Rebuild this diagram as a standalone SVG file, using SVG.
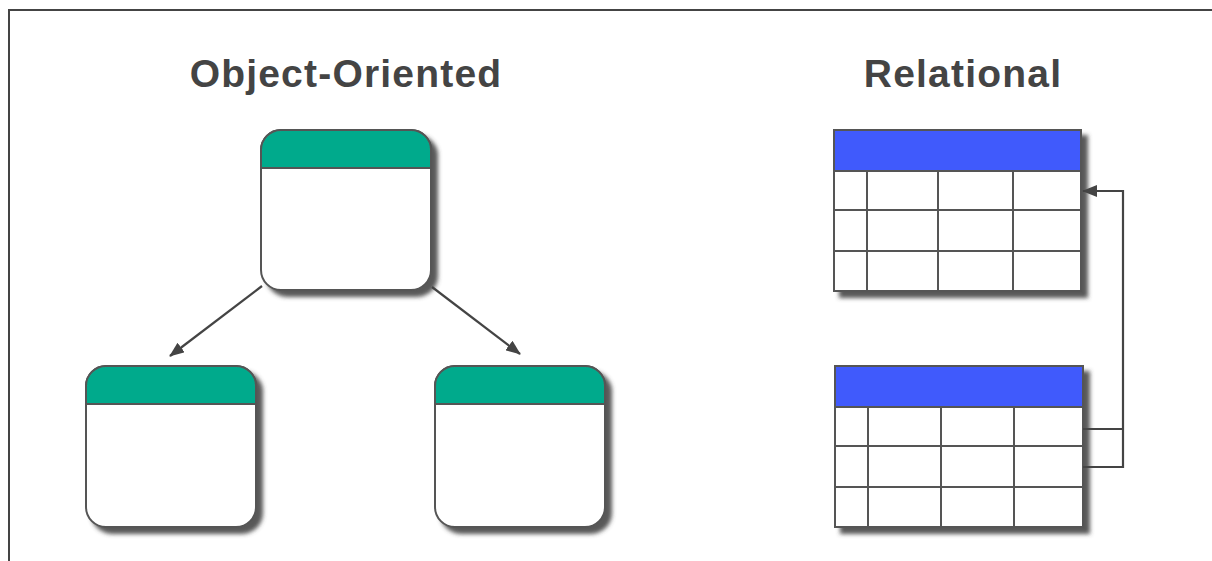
<svg xmlns="http://www.w3.org/2000/svg" width="1212" height="561" viewBox="0 0 1212 561">
<style>
.title{font-family:"Liberation Sans",Arial,sans-serif;font-weight:bold;font-size:39px;fill:#444;letter-spacing:1.2px}
.box{fill:#fff;stroke:#555;stroke-width:2}
.hdrG{fill:#06aa8c;stroke:#555;stroke-width:2}
.hdrB{fill:#405afc;stroke:#555;stroke-width:2}
.grid{stroke:#555;stroke-width:2;fill:none}
.conn{stroke:#444;stroke-width:2.2;fill:none}
</style>
<defs>
<filter id="sh" x="-10%" y="-10%" width="130%" height="130%">
<feDropShadow dx="6" dy="6" stdDeviation="2.2" flood-color="#444" flood-opacity="0.9"/>
</filter>
<marker id="ah" markerWidth="15" markerHeight="12" refX="14" refY="6" orient="auto" markerUnits="userSpaceOnUse">
<path d="M0,0 L15,6 L0,12 Z" fill="#444"/>
</marker>
</defs>
<rect width="1212" height="561" fill="#fff"/>
<path d="M9,561 V10 H1212" stroke="#444" stroke-width="2" fill="none"/>
<text class="title" x="346" y="87" text-anchor="middle">Object-Oriented</text>
<text class="title" x="963" y="87" text-anchor="middle">Relational</text>
<g id="obj-top" filter="url(#sh)">
<rect class="box" x="261" y="130" width="170" height="160" rx="20"/>
<path class="hdrG" d="M261,168 V150 A20,20 0 0 1 281,130 H411 A20,20 0 0 1 431,150 V168 Z"/>
</g>
<g id="obj-left" filter="url(#sh)">
<rect class="box" x="86" y="366" width="170" height="161" rx="20"/>
<path class="hdrG" d="M86,404 V386 A20,20 0 0 1 106,366 H236 A20,20 0 0 1 256,386 V404 Z"/>
</g>
<g id="obj-right" filter="url(#sh)">
<rect class="box" x="435" y="366" width="170" height="161" rx="20"/>
<path class="hdrG" d="M435,404 V386 A20,20 0 0 1 455,366 H585 A20,20 0 0 1 605,386 V404 Z"/>
</g>
<g id="table-top">
<g filter="url(#sh)">
<rect class="box" x="834" y="130" width="247" height="161"/>
</g>
<rect class="hdrB" x="834" y="130" width="247" height="41"/>
<path class="grid" d="M834,210 H1081 M834,251 H1081 M867,171 V291 M938,171 V291 M1013,171 V291"/>
</g>
<g id="table-bottom">
<g filter="url(#sh)">
<rect class="box" x="835" y="366" width="248" height="161"/>
</g>
<rect class="hdrB" x="835" y="366" width="248" height="41"/>
<path class="grid" d="M835,446 H1083 M835,487 H1083 M868,407 V527 M941,407 V527 M1014,407 V527"/>
</g>
<g id="connectors">
<line class="conn" x1="262" y1="286" x2="170" y2="356" marker-end="url(#ah)"/>
<line class="conn" x1="432" y1="287" x2="520" y2="354" marker-end="url(#ah)"/>
<path class="conn" d="M1083,429 H1123 M1083,467 H1123 V191 H1083" marker-end="url(#ah)"/>
</g>
</svg>
